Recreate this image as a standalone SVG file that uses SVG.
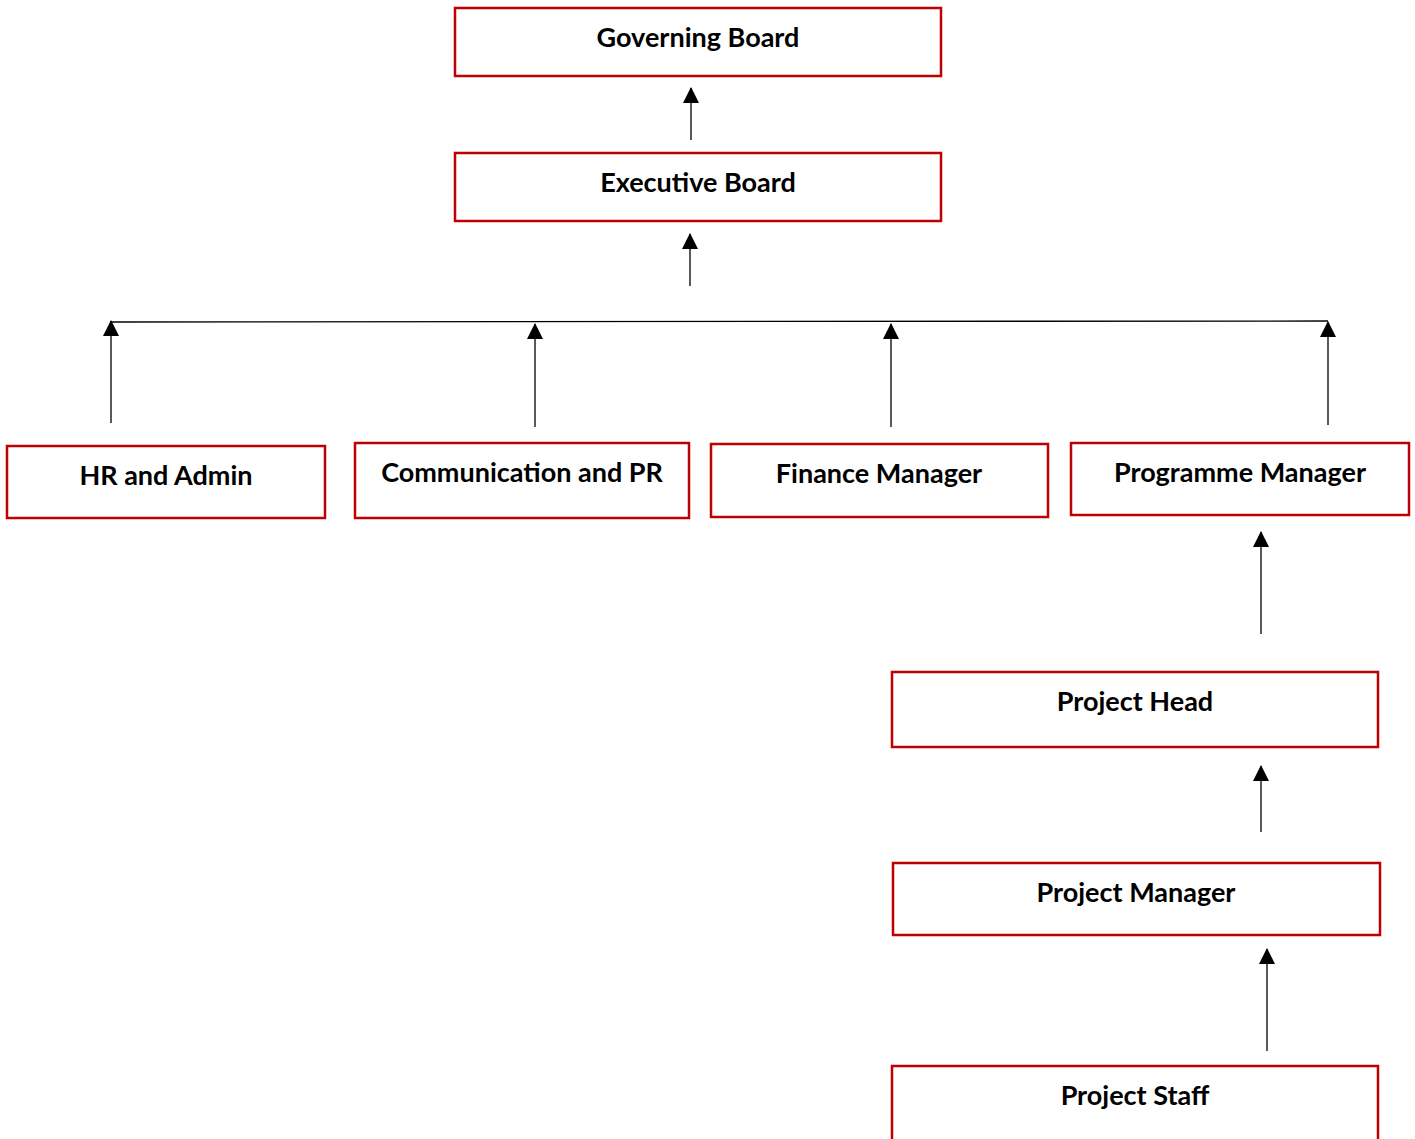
<svg xmlns="http://www.w3.org/2000/svg" width="1415" height="1139" viewBox="0 0 1415 1139">
<style>
.box{fill:#fff;stroke:#C00000;stroke-width:2.5}
.lbl{font-family:Lato,"Open Sans","Liberation Sans",sans-serif;font-weight:bold;font-size:27px;fill:#000;text-anchor:middle}
.con{stroke:#000;stroke-width:1.3;fill:none}
</style>
<defs>
<marker id="ah" markerWidth="16" markerHeight="16" viewBox="0 0 16 16" refX="15" refY="8" orient="auto" markerUnits="userSpaceOnUse">
<path d="M0,0 L16,8 L0,16 Z" fill="#000"/>
</marker>
</defs>
<rect width="1415" height="1139" fill="#fff"/>
<g id="connectors">
<line class="con" x1="691" y1="140" x2="691" y2="88" marker-end="url(#ah)"/>
<line class="con" x1="690" y1="286" x2="690" y2="234" marker-end="url(#ah)"/>
<line class="con" x1="110" y1="322" x2="1328" y2="321"/>
<line class="con" x1="111" y1="423" x2="111" y2="321" marker-end="url(#ah)"/>
<line class="con" x1="535" y1="427" x2="535" y2="324" marker-end="url(#ah)"/>
<line class="con" x1="891" y1="427" x2="891" y2="324" marker-end="url(#ah)"/>
<line class="con" x1="1328" y1="425" x2="1328" y2="322" marker-end="url(#ah)"/>
<line class="con" x1="1261" y1="634" x2="1261" y2="532" marker-end="url(#ah)"/>
<line class="con" x1="1261" y1="832" x2="1261" y2="766" marker-end="url(#ah)"/>
<line class="con" x1="1267" y1="1051" x2="1267" y2="949" marker-end="url(#ah)"/>
</g>
<g id="governing-board">
<rect class="box" x="455" y="8" width="486" height="68"/>
<text class="lbl" x="698" y="47">Governing Board</text>
</g>
<g id="executive-board">
<rect class="box" x="455" y="153" width="486" height="68"/>
<text class="lbl" x="698" y="192">Executive Board</text>
</g>
<g id="hr-admin">
<rect class="box" x="7" y="446" width="318" height="72"/>
<text class="lbl" x="166" y="485">HR and Admin</text>
</g>
<g id="communication-pr">
<rect class="box" x="355" y="443" width="334" height="75"/>
<text class="lbl" x="522" y="482">Communication and PR</text>
</g>
<g id="finance-manager">
<rect class="box" x="711" y="444" width="337" height="73"/>
<text class="lbl" x="879" y="483">Finance Manager</text>
</g>
<g id="programme-manager">
<rect class="box" x="1071" y="443" width="338" height="72"/>
<text class="lbl" x="1240" y="482">Programme Manager</text>
</g>
<g id="project-head">
<rect class="box" x="892" y="672" width="486" height="75"/>
<text class="lbl" x="1135" y="711">Project Head</text>
</g>
<g id="project-manager">
<rect class="box" x="893" y="863" width="487" height="72"/>
<text class="lbl" x="1136" y="902">Project Manager</text>
</g>
<g id="project-staff">
<rect class="box" x="892" y="1066" width="486" height="80"/>
<text class="lbl" x="1135" y="1105">Project Staff</text>
</g>
</svg>
